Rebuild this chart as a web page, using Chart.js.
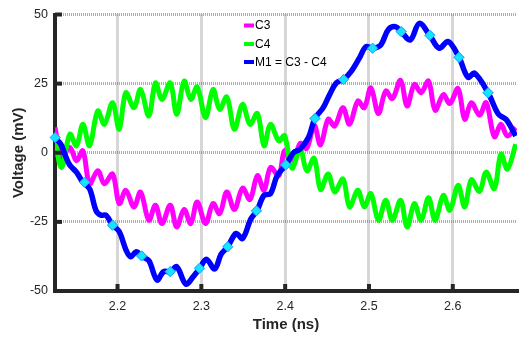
<!DOCTYPE html>
<html>
<head>
<meta charset="utf-8">
<script src="https://cdn.jsdelivr.net/npm/chart.js@4"></script>
<style>
  html, body { margin: 0; padding: 0; background: #fff; }
  #wrap { width: 523px; height: 338px; }
</style>
</head>
<body>
<div id="wrap"><canvas id="grafico" width="523" height="338"></canvas></div>
<script>
// tiempos (ns) de las curvas C3 y C4 (misma fase del rizado)
const tRizado = [2.1254, 2.1333, 2.1431, 2.1510, 2.1587, 2.1666, 2.1764, 2.1843, 2.1941, 2.2020,
  2.2099, 2.2196, 2.2275, 2.2373, 2.2452, 2.2530, 2.2629, 2.2706, 2.2794, 2.2874,
  2.2950, 2.3050, 2.3139, 2.3218, 2.3304, 2.3394, 2.3492, 2.3580, 2.3669, 2.3748,
  2.3825, 2.3924, 2.3993, 2.4081, 2.4179, 2.4258, 2.4346, 2.4422, 2.4513, 2.4591,
  2.4690, 2.4768, 2.4867, 2.4944, 2.5023, 2.5112, 2.5200, 2.5279, 2.5377, 2.5455,
  2.5541, 2.5622, 2.5710, 2.5789, 2.5887, 2.5965, 2.6063, 2.6142, 2.6221, 2.6319,
  2.6398, 2.6496, 2.6574, 2.6652, 2.6751];

// C3 (mV)
const vC3 = [9.1, -1.7, 1.9, -2.9, 0.7, -11.2, -6.5, -11.2, -7.7, -18.4,
  -13.6, -19.6, -14.2, -24.4, -19, -25.6, -19, -26.8, -20.5, -25.6,
  -17.8, -25.6, -18.4, -22, -14.2, -20.5, -12.8, -16.9, -8.3, -13.6,
  -5.3, -8.3, 0.7, -4.5, 3.4, 1.6, 10, 2.8, 12.1, 9.7,
  16.3, 10.3, 18.7, 16.3, 23.5, 14.2, 22.3, 19.6, 26.2, 16.9,
  24.7, 21.7, 25.9, 15.4, 21, 17.8, 23.2, 12.1, 18.1, 13.6,
  18.1, 5.8, 10.3, 6.1, 9.1];

// C4 (mV)
const vC4 = [4.3, -5.3, 6.7, 2.5, 10.3, 2.5, 15.1, 10.3, 18.1, 8.5,
  21.7, 16.3, 22.9, 13.3, 25.3, 19.3, 25.3, 13.9, 25.9, 19.3,
  23.8, 12.7, 22.9, 15.7, 20.2, 8.5, 17.5, 10.3, 14.2, 2.5,
  10.3, 4.3, 6.2, -5.6, 1.3, -6.5, -2.0, -13.3, -7.7, -14.2,
  -9.5, -19.6, -13.6, -19.6, -14.8, -24.4, -17.2, -24.4, -17.2, -26.8,
  -18.4, -24.4, -16.3, -24.4, -15.4, -20.8, -11.8, -19.6, -9.8, -14,
  -7, -13, -0.5, -5.9, 3.1];

// M1 = C3 - C4
const tM1 = [2.1254, 2.1325, 2.1384, 2.1431, 2.1510, 2.1587, 2.1666, 2.1745, 2.1804, 2.1863,
  2.1941, 2.2020, 2.2099, 2.2157, 2.2226, 2.2291, 2.2373, 2.2471, 2.2550, 2.2629,
  2.2706, 2.2815, 2.2903, 2.2980, 2.3060, 2.3159, 2.3236, 2.3315, 2.3413, 2.3492,
  2.3590, 2.3663, 2.3748, 2.3825, 2.3904, 2.4010, 2.4101, 2.4179, 2.4278, 2.4355,
  2.4454, 2.4532, 2.4611, 2.4697, 2.4788, 2.4885, 2.4964, 2.5043, 2.5141, 2.5229,
  2.5318, 2.5385, 2.5494, 2.5600, 2.5724, 2.5836, 2.5945, 2.6074, 2.6181, 2.6260,
  2.6421, 2.6543, 2.6637, 2.6751];
const vM1 = [5.5, 3, -1.5, -4.5, -7, -10.7, -13, -21, -22.6, -22.6,
  -26.2, -28.5, -35, -37.6, -35.8, -37.5, -39, -46, -43, -43,
  -41.2, -47.5, -44.8, -41.8, -38.5, -42, -36.7, -34, -29.2, -31,
  -24, -21, -15.4, -14.8, -8.3, -4.4, 0.1, 1.3, 5.5, 12.4,
  16.3, 21.1, 25.3, 26.5, 29.4, 34.2, 38.4, 37.8, 39, 44.5,
  45.6, 43.8, 40.8, 46.8, 42.5, 37.8, 40.2, 34.5, 27.3, 28.8,
  21.7, 14, 12, 6.1];

// marcadores (rombos) sobre M1
const tMarcas = [2.1254, 2.1607, 2.1941, 2.2287, 2.2629, 2.2977, 2.3315, 2.3657,
  2.4007, 2.4355, 2.4697, 2.5043, 2.5385, 2.5726, 2.6074, 2.6421];
const vMarcas = [5.5, -10.7, -26.2, -37.3, -43, -41.8, -34, -21,
  -4.4, 12.4, 26.5, 37.8, 43.8, 42.5, 34.5, 21.7];

const ticksX = [2.2, 2.3, 2.4, 2.5, 2.6];
const ticksY = [-50, -25, 0, 25, 50];
const etiquetas = ['C3', 'C4', 'M1 = C3 - C4'];
const colores = ['#ff00ff', '#00ff00', '#0000ff'];

function puntos(ts, vs) {
    return ts.map((t, i) => ({ x: t, y: vs[i] }));
}

// rombos por encima de todo, leyenda dentro del area y marcas de eje hacia dentro
const extras = {
    id: 'extras',
    afterDatasetsDraw(chart) {
        const ctx = chart.ctx;
        const meta = chart.getDatasetMeta(0);
        ctx.save();
        meta.data.forEach(p => p.draw(ctx, chart.chartArea));
        ctx.restore();
    },
    afterDraw(chart) {
        const ctx = chart.ctx;
        const a = chart.chartArea;
        const sx = chart.scales.x, sy = chart.scales.y;
        ctx.save();
        ctx.fillStyle = '#262626';
        ticksY.forEach(v => {
            const y = sy.getPixelForValue(v);
            ctx.fillRect(a.left, y - 2, 7, 4);
        });
        ticksX.forEach(v => {
            const x = sx.getPixelForValue(v);
            ctx.fillRect(x - 2, a.bottom - 7, 4, 7);
        });
        ctx.font = '12px "Liberation Sans", Arial, sans-serif';
        ctx.textBaseline = 'middle';
        const filas = [25.5, 44, 62];
        etiquetas.forEach((txt, i) => {
            ctx.fillStyle = colores[i];
            ctx.fillRect(244, filas[i] - 2, 10, 4);
            ctx.fillStyle = '#000';
            ctx.fillText(txt, 255, filas[i] + 0.5);
        });
        ctx.restore();
    }
};

const gridColor = 'rgba(120,120,120,0.6)';

function graficar() {
    const ctx = document.getElementById('grafico').getContext('2d');
    new Chart(ctx, {
        type: 'line',
        data: {
            datasets: [
                {
                    label: 'marcas',
                    data: puntos(tMarcas, vMarcas),
                    showLine: false,
                    pointStyle: 'rectRot',
                    pointRadius: 5,
                    pointBackgroundColor: '#14e4ff',
                    pointBorderColor: '#20a8ff',
                    pointBorderWidth: 1,
                    order: 0
                },
                {
                    label: etiquetas[2],
                    data: puntos(tM1, vM1),
                    borderColor: colores[2],
                    borderWidth: 5.5,
                    pointRadius: 0,
                    tension: 0.35,
                    order: 1
                },
                {
                    label: etiquetas[1],
                    data: puntos(tRizado, vC4),
                    borderColor: colores[1],
                    borderWidth: 5,
                    pointRadius: 0,
                    tension: 0.35,
                    order: 2
                },
                {
                    label: etiquetas[0],
                    data: puntos(tRizado, vC3),
                    borderColor: colores[0],
                    borderWidth: 5,
                    pointRadius: 0,
                    tension: 0.35,
                    order: 3
                }
            ]
        },
        options: {
            responsive: false,
            animation: false,
            devicePixelRatio: 1,
            layout: { padding: { top: 13, right: 0, left: 0, bottom: 0 } },
            plugins: {
                legend: { display: false },
                tooltip: { enabled: false }
            },
            scales: {
                x: {
                    type: 'linear',
                    min: 2.1254,
                    max: 2.6766,
                    afterBuildTicks: s => { s.ticks = ticksX.map(v => ({ value: v })); },
                    afterFit: s => { s.height = 47; },
                    ticks: {
                        callback: v => v.toFixed(1),
                        font: { family: '"Liberation Sans", Arial, sans-serif', size: 12.5 },
                        color: '#262626',
                        padding: 8,
                        maxRotation: 0,
                        autoSkip: false
                    },
                    grid: { color: gridColor, lineWidth: 3, drawTicks: false },
                    border: { display: true, color: '#262626', width: 4, dash: [1, 1] },
                    title: {
                        display: true,
                        text: 'Time (ns)',
                        color: '#262626',
                        font: { family: '"Liberation Sans", Arial, sans-serif', size: 15, weight: 'bold' },
                        padding: { top: 0, bottom: 4 }
                    }
                },
                y: {
                    min: -50,
                    max: 50,
                    afterBuildTicks: s => { s.ticks = ticksY.map(v => ({ value: v })); },
                    afterFit: s => { s.width = 55; },
                    ticks: {
                        callback: v => String(v),
                        font: { family: '"Liberation Sans", Arial, sans-serif', size: 12.5 },
                        color: '#262626',
                        padding: 7
                    },
                    grid: { color: gridColor, lineWidth: 3, drawTicks: false },
                    border: { display: true, color: '#262626', width: 4, dash: [1, 1] },
                    title: {
                        display: true,
                        text: 'Voltage (mV)',
                        color: '#262626',
                        font: { family: '"Liberation Sans", Arial, sans-serif', size: 15, weight: 'bold' },
                        padding: { top: 9.5, bottom: 0 }
                    }
                }
            }
        },
        plugins: [extras]
    });
}

window.onload = function() {
    graficar();
};
</script>
</body>
</html>
